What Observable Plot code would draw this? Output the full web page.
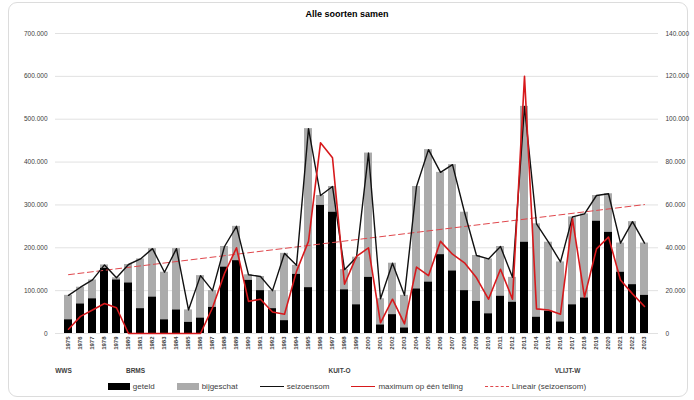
<!DOCTYPE html>
<html><head><meta charset="utf-8">
<script src="https://cdn.jsdelivr.net/npm/d3@7"></script>
<script src="https://cdn.jsdelivr.net/npm/@observablehq/plot@0.6"></script>
<style>
body{margin:0;background:#fff;font-family:"Liberation Sans",Arial,sans-serif;}
#frame{position:absolute;left:8px;top:2px;width:678px;height:393px;border:1px solid #dcdcdc;border-radius:9px;}
#title{position:absolute;top:9px;left:0;width:694px;text-align:center;font-weight:bold;font-size:9px;color:#000;}
#chart{position:absolute;top:22px;left:0;}
#legend{position:absolute;top:382px;left:0;width:694px;display:flex;justify-content:center;align-items:center;gap:22px;font-size:8px;color:#404040;}
#legend span.item{display:flex;align-items:center;gap:3px;}
.sw{display:inline-block;}
</style></head>
<body>
<div id="frame"></div>
<div id="title">Alle soorten samen</div>
<div id="chart"></div>
<div id="legend">
  <span class="item"><span class="sw" style="width:22px;height:7px;background:#000"></span>geteld</span>
  <span class="item"><span class="sw" style="width:22px;height:7px;background:#ababab"></span>bijgeschat</span>
  <span class="item"><span class="sw" style="width:24px;height:0;border-top:1.5px solid #111"></span>seizoensom</span>
  <span class="item"><span class="sw" style="width:24px;height:0;border-top:1.8px solid #d7191c"></span>maximum op één telling</span>
  <span class="item"><span class="sw" style="width:24px;height:0;border-top:1.2px dashed #e0474c"></span>Lineair (seizoensom)</span>
</div>
<script>
const years = [1975,1976,1977,1978,1979,1980,1981,1982,1983,1984,1985,1986,1987,1988,1989,1990,
  1991,1992,1993,1994,1995,1996,1997,1998,1999,2000,2001,2002,2003,2004,2005,2006,2007,
  2008,2009,2010,2011,2012,2013,2014,2015,2016,2017,2018,2019,2020,2021,2022,2023];
const geteld = [32000,69000,81000,152000,125000,118000,58000,85000,32000,55000,26000,36000,61000,155000,170000,124000,
  100000,58000,30000,138000,107000,299000,283000,102000,67000,131000,20000,44000,13000,104000,120000,184000,146000,
  100000,75000,46000,87000,73000,213000,38000,52000,27000,67000,83000,262000,236000,143000,114000,89000];
const seizoensom = [89000,108000,125000,160000,130000,161000,174000,198000,143000,198000,55000,135000,100000,203000,250000,137000,
  133000,100000,187000,159000,478000,322000,343000,149000,178000,421000,81000,164000,89000,343000,429000,376000,394000,
  283000,182000,174000,203000,131000,530000,256000,213000,167000,272000,279000,322000,326000,211000,261000,211000];
const maxTelling = [2000,8000,11000,14000,12000,0,0,0,0,0,0,0,12000,28000,40000,15000,
  16000,10000,9000,29000,43000,89000,82000,23000,36000,40000,5000,16000,4500,31000,27000,43000,37000,
  33000,26000,16000,30000,16000,120000,11500,11000,9000,53500,17000,39500,45000,25000,18500,12600];
const leftTicks = [0,100000,200000,300000,400000,500000,600000,700000];
const annoYears = ["1975","1981","1998","2017"];
const annoLabels = ["WWS","BRMS","KUIT-O","VLIJT-W"];

const RATIO = 5; // right axis 0–140.000 maps onto left axis 0–700.000
const fmt = d3.formatLocale({decimal:",",thousands:".",grouping:[3],currency:["€",""]}).format(",d");
const data = years.map((y,i)=>({year:String(y), geteld:geteld[i], totaal:seizoensom[i], max:maxTelling[i]}));
const mx = d3.mean(years), my = d3.mean(seizoensom);
const slope = d3.sum(years,(x,i)=>(x-mx)*(seizoensom[i]-my))/d3.sum(years,x=>(x-mx)**2);
const icpt = my - slope*mx;
const trend = [years[0], years[years.length-1]].map(x=>({year:String(x), v:icpt+slope*x}));
const annos = annoYears.map((y,i)=>({year:y, label:annoLabels[i]}));

const chart = Plot.plot({
  width:694, height:355, marginTop:11, marginBottom:44, marginLeft:55, marginRight:36,
  style:{fontFamily:"Liberation Sans, Arial, sans-serif", fontSize:"6.5px", color:"#404040", background:"transparent", overflow:"visible"},
  x:{type:"band", domain:data.map(d=>d.year), padding:0.33, label:null},
  y:{domain:[0,700000], label:null},
  marks:[
    Plot.gridY(leftTicks,{stroke:"#d9d9d9", strokeOpacity:1, strokeWidth:0.8}),
    Plot.axisY(leftTicks,{anchor:"left", tickSize:0, tickPadding:8, tickFormat:fmt, label:null}),
    Plot.axisY(leftTicks,{anchor:"right", tickSize:0, tickPadding:7, tickFormat:d=>fmt(d/RATIO), label:null}),
    Plot.axisX({tickRotate:-90, tickSize:0, tickPadding:3, fontSize:6, fontWeight:"bold", label:null}),
    Plot.barY(data,{x:"year", y1:"geteld", y2:"totaal", fill:"#ababab"}),
    Plot.barY(data,{x:"year", y:"geteld", fill:"#000"}),
    Plot.line(trend,{x:"year", y:"v", stroke:"#e0474c", strokeWidth:1, strokeDasharray:"6,3.5"}),
    Plot.line(data,{x:"year", y:"totaal", stroke:"#111", strokeWidth:1.4}),
    Plot.line(data,{x:"year", y:d=>d.max*RATIO, stroke:"#d7191c", strokeWidth:1.6}),
    Plot.text(annos,{x:"year", frameAnchor:"bottom", dy:39, dx:-5, text:"label", fontWeight:"bold", fontSize:6.5, fill:"#404040"})
  ]
});
document.getElementById("chart").appendChild(chart);
</script>
</body></html>
